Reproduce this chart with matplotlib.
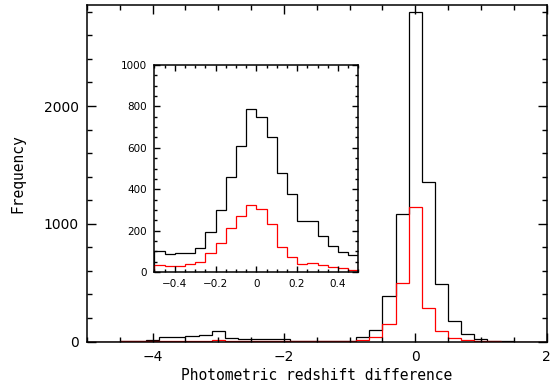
import numpy as np
import matplotlib
matplotlib.use("Agg")
import matplotlib.pyplot as plt
from matplotlib.ticker import MultipleLocator

# ---- data ----
main_bin_width = 0.2
main_first_edge = -5.1
black_main = [0, 0, 0, 2, 4, 10, 35, 36, 50, 52, 92, 32, 22, 20, 20, 18,
              8, 8, 8, 8, 8, 42, 95, 385, 1080, 2795, 1355, 485, 178, 62,
              23, 3, 2, 0, 0, 0]
red_main = [0, 0, 0, 1, 1, 2, 3, 3, 4, 4, 15, 6, 4, 4, 4, 3, 3, 3, 3, 3, 4,
            15, 40, 145, 493, 1140, 282, 88, 31, 11, 3, 1, 0, 0, 0, 0]

inset_bin_width = 0.05
inset_first_edge = -0.5
black_inset = [103, 87, 93, 90, 118, 192, 300, 457, 610, 786, 749, 654, 478,
               377, 246, 246, 172, 127, 95, 81]
red_inset = [35, 31, 29, 39, 48, 92, 140, 211, 271, 325, 304, 233, 121, 74,
             39, 42, 34, 24, 18, 10]

xlabel = "Photometric redshift difference"
ylabel = "Frequency"

main_edges = main_first_edge + main_bin_width * np.arange(len(black_main) + 1)
inset_edges = inset_first_edge + inset_bin_width * np.arange(len(black_inset) + 1)

plt.rcParams['font.family'] = ['DejaVu Sans']

fig = plt.figure(figsize=(5.58, 3.87), dpi=100)
ax = fig.add_axes([87/558, 1-341.5/387, (546.5-87)/558, (341.5-5)/387])

ax.stairs(black_main, main_edges, color='black', lw=0.9)
ax.stairs(red_main, main_edges, color='#ff0000', lw=0.9)
ax.set_xlim(-5, 2)
ax.set_ylim(0, 2858)
ax.xaxis.set_major_locator(MultipleLocator(2))
ax.xaxis.set_minor_locator(MultipleLocator(0.5))
ax.yaxis.set_major_locator(MultipleLocator(1000))
ax.yaxis.set_minor_locator(MultipleLocator(200))
ax.tick_params(which='both', direction='in', top=True, right=True, width=1.0)
ax.tick_params(which='major', length=6.5, labelsize=10, pad=6)
ax.tick_params(which='minor', length=3.5)
for s in ax.spines.values():
    s.set_linewidth(1.1)
ax.set_xlabel(xlabel, family='DejaVu Sans Mono', fontsize=10.5, labelpad=3)
ax.set_ylabel(ylabel, family='DejaVu Sans Mono', fontsize=10.5, labelpad=13)

ins = fig.add_axes([154.3/558, 1-272/387, (358.3-154.3)/558, (272-65)/387])
ins.stairs(black_inset, inset_edges, color='black', lw=0.9)
ins.stairs(red_inset, inset_edges, color='#ff0000', lw=0.9)
ins.set_xlim(-0.5, 0.5)
ins.set_ylim(0, 1000)
ins.xaxis.set_major_locator(MultipleLocator(0.2))
ins.xaxis.set_minor_locator(MultipleLocator(0.05))
ins.yaxis.set_major_locator(MultipleLocator(200))
ins.yaxis.set_minor_locator(MultipleLocator(50))
ins.xaxis.set_major_formatter(plt.FuncFormatter(
    lambda v, p: "0" if abs(v) < 1e-9 else ("%.1f" % v).replace('-', '\u2212')))
ins.tick_params(which='both', direction='in', top=True, right=True, width=1.0)
ins.tick_params(which='major', length=4.5, labelsize=7.5, pad=5)
ins.tick_params(which='minor', length=2.5)
for s in ins.spines.values():
    s.set_linewidth(1.1)

fig.savefig("out.png", dpi=100)
